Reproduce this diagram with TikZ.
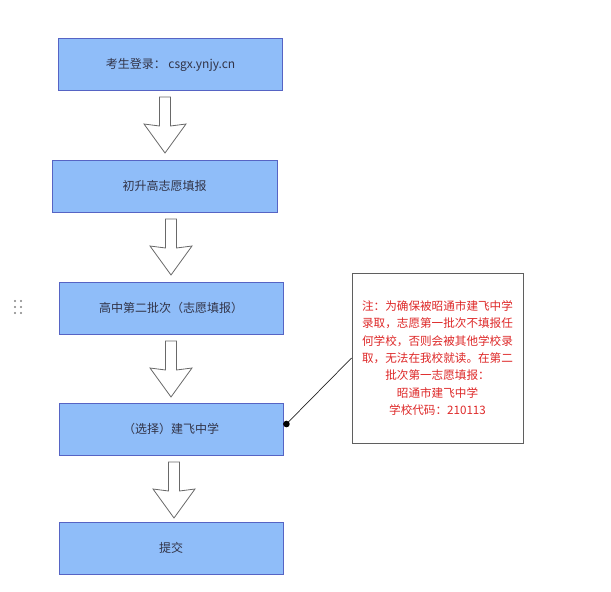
\documentclass[tikz,border=0pt]{standalone}
\usepackage{fontspec}
\setmainfont{Noto Sans CJK SC}
\usetikzlibrary{calc}
\definecolor{boxfill}{RGB}{143,189,249}
\definecolor{boxline}{RGB}{86,100,196}
\definecolor{boxtext}{RGB}{50,52,72}
\definecolor{notered}{RGB}{222,40,40}
\definecolor{notegray}{RGB}{95,95,95}
\definecolor{arrowgray}{RGB}{105,105,105}
\definecolor{griddot}{RGB}{130,130,130}
\tikzset{
  stepbox/.style={draw=boxline, line width=0.85pt, fill=boxfill, text=boxtext,
    minimum width=224pt, minimum height=52pt, inner sep=0pt,
    font=\fontsize{12}{14}\selectfont},
  notebox/.style={draw=notegray, line width=0.9pt, fill=white, text=notered,
    minimum width=171pt, minimum height=170pt, inner sep=0pt, align=center,
    font=\fontsize{11.6}{17.3}\selectfont},
  blockarrow/.pic={
    \draw[arrowgray, line width=0.8pt, line join=miter, fill=white]
      (-5.5,0) -- (5.5,0) -- (5.5,29) -- (21,27) -- (0,56) -- (-21,27) -- (-5.5,29) -- cycle;
  }
}
\begin{document}
\begin{tikzpicture}[x=1pt, y=-1pt]
\useasboundingbox (0,0) rectangle (611,592);
% grip dots
\foreach \gx in {15,21} \foreach \gy in {301,307,313}
  \fill[griddot] (\gx,\gy) circle (1.2);
% boxes
\node[stepbox] (b1) at (170.5,64.5) {考生登录： csgx.ynjy.cn};
\node[stepbox, minimum width=225pt] (b2) at (164.5,186) {初升高志愿填报};
\node[stepbox] (b3) at (171,308) {高中第二批次（志愿填报）};
\node[stepbox] (b4) at (171,429) {（选择）建飞中学};
\node[stepbox] (b5) at (171,548) {提交};
% block arrows
\pic at (165,97) {blockarrow};
\pic at (171,219) {blockarrow};
\pic at (171,341) {blockarrow};
\pic at (174,462) {blockarrow};
% note
\node[notebox] (note) at (437.5,358) {注：为确保被昭通市建飞中学\\录取，志愿第一批次不填报任\\何学校，否则会被其他学校录\\取，无法在我校就读。在第二\\批次第一志愿填报：\\昭通市建飞中学\\学校代码：210113};
\coordinate (dot) at ([xshift=3pt,yshift=5pt]b4.east);
\draw[black!85, line width=0.7pt] (dot) -- (note.west);
\fill[black] (dot) circle (3.3);
\end{tikzpicture}
\end{document}
